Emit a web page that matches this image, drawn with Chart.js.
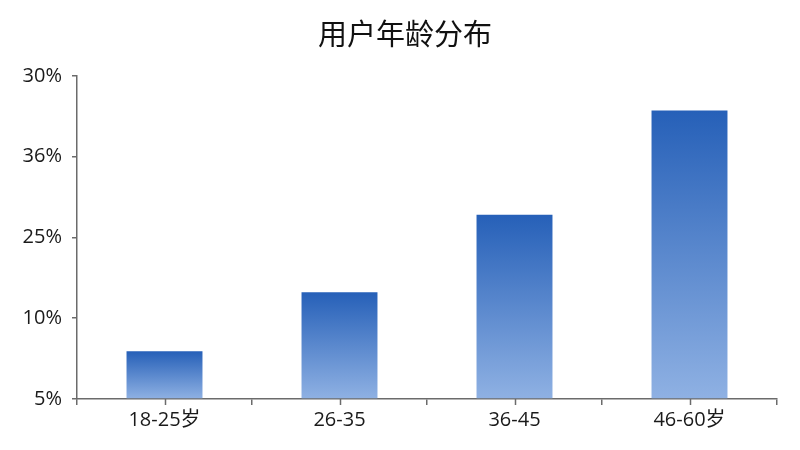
<!DOCTYPE html>
<html>
<head>
<meta charset="utf-8">
<script src="https://cdn.jsdelivr.net/npm/chart.js@4"></script>
<style>
html,body{margin:0;padding:0;background:#fff;}
#wrap{width:800px;height:450px;position:relative;}
</style>
</head>
<body>
<div id="wrap"><canvas id="c"></canvas></div>
<script>
const categories = ["18-25岁", "26-35", "36-45", "46-60岁"];
const values = [5.9, 13.2, 22.8, 35.7];
const tickLabels = ["5%", "10%", "25%", "36%", "30%"];
const titleText = "用户年龄分布";

const FONT = "'Open Sans', 'Noto Sans CJK SC', sans-serif";
const TITLE_FONT = "'Noto Sans CJK SC', sans-serif";
const AXIS = '#6b6b6b';

function barGradient(ctx) {
  const chart = ctx.chart;
  const ys = chart.scales && chart.scales.y;
  if (!ys || !chart.chartArea || ctx.raw === undefined) return '#4a7fcb';
  const top = ys.getPixelForValue(ctx.raw);
  const bottom = ys.getPixelForValue(0);
  if (!isFinite(top) || !isFinite(bottom) || top === bottom) return '#4a7fcb';
  const g = chart.ctx.createLinearGradient(0, top, 0, bottom);
  g.addColorStop(0, '#2660b8');
  g.addColorStop(1, '#8fb1e3');
  return g;
}

const centerTicks = {
  id: 'centerTicks',
  afterDraw(chart) {
    const xs = chart.scales.x;
    const c = chart.ctx;
    c.save();
    c.strokeStyle = AXIS;
    c.lineWidth = 1.5;
    xs.ticks.forEach((t, i) => {
      const x = Math.round(xs.getPixelForTick(i)) + 0.5;
      c.beginPath();
      c.moveTo(x, xs.top);
      c.lineTo(x, xs.top + 6);
      c.stroke();
    });
    c.restore();
  }
};

new Chart(document.getElementById('c'), {
  type: 'bar',
  data: {
    labels: categories,
    datasets: [{
      data: values,
      backgroundColor: barGradient,
      borderWidth: 0,
      categoryPercentage: 0.434,
      barPercentage: 1.0
    }]
  },
  options: {
    responsive: true,
    maintainAspectRatio: false,
    animation: false,
    layout: { padding: { left: 10, right: 0, top: 0, bottom: 0 } },
    plugins: {
      legend: { display: false },
      tooltip: { enabled: false },
      title: {
        display: true,
        text: titleText,
        color: '#111',
        font: { family: TITLE_FONT, size: 29, weight: 'normal' },
        padding: { top: 17, bottom: 24 }
      }
    },
    scales: {
      x: {
        offset: true,
        grid: { display: true, drawOnChartArea: false, drawTicks: true, tickLength: 6, color: AXIS, lineWidth: 1.5, offset: true },
        border: { display: true, color: AXIS, width: 1.5 },
        ticks: { color: '#1a1a1a', padding: 3, font: { family: FONT, size: 20 } },
        afterFit(scale) { scale.height = 51; }
      },
      y: {
        min: 0,
        max: 40,
        grid: { display: true, drawOnChartArea: false, drawTicks: true, tickLength: 5, color: AXIS, lineWidth: 1.5 },
        border: { display: true, color: AXIS, width: 1.5 },
        ticks: {
          stepSize: 10,
          color: '#1a1a1a',
          padding: 10,
          font: { family: FONT, size: 20 },
          callback: function(v, i) { return tickLabels[i]; }
        },
        afterFit(scale) { scale.width = 67; }
      },
      yRight: {
        position: 'right',
        display: true,
        grid: { display: false, drawTicks: false },
        border: { display: false },
        ticks: { display: false },
        afterFit(scale) { scale.width = 23; }
      }
    }
  },
  plugins: [centerTicks]
});
</script>
</body>
</html>
